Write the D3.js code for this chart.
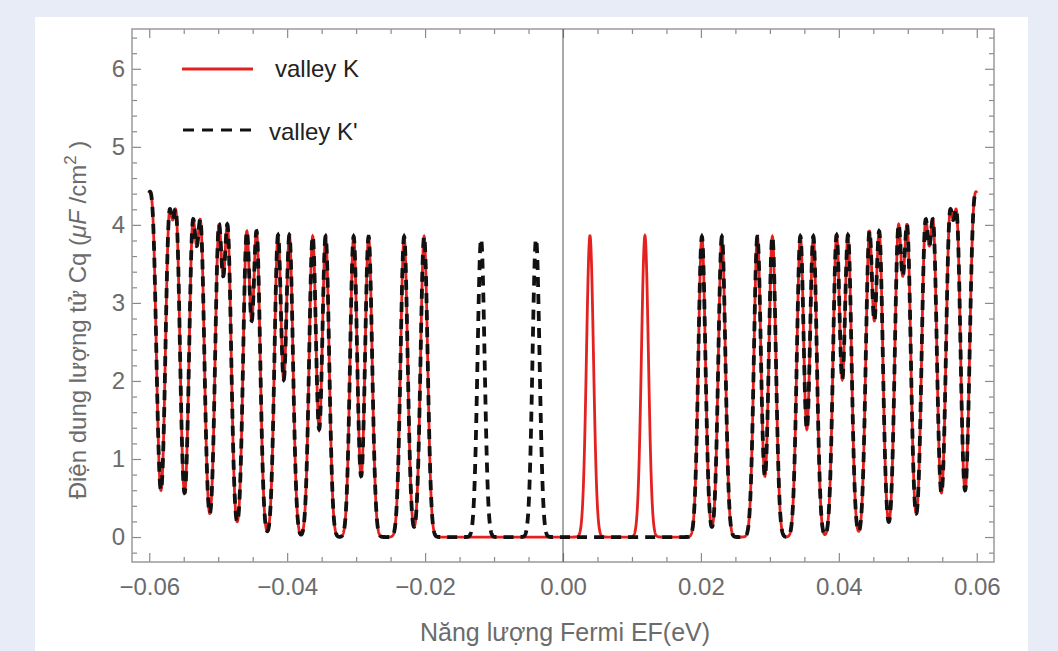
<!doctype html>
<html lang="vi">
<head>
  <meta charset="utf-8">
  <title>Cq valley K / K'</title>
  <script type="text/javascript" src="https://cdnjs.cloudflare.com/ajax/libs/d3/7.8.5/d3.min.js"></script>
  <style>
    body { margin: 0; background: #e8ecf6; }
    svg { display: block; }
  </style>
</head>
<body>
  <svg width="1058" height="651" id="svg"></svg>
</body>

<script type="text/javascript">

	// peaks shared by both valleys (magnitude of energy, eV) - they appear at +E and -E
	var commonPeakEnergy = [0.06036, 0.05942, 0.05716, 0.05603, 0.05372, 0.05251,
							0.04993, 0.04862, 0.04587, 0.04442, 0.04133, 0.03967,
							0.03630, 0.03442, 0.03036, 0.02819, 0.02304, 0.02014];
	var commonPeakHeight = [3.4, 3.4, 3.78, 3.78, 3.8, 3.8,
							3.85, 3.85, 3.85, 3.85, 3.85, 3.85,
							3.85, 3.85, 3.85, 3.85, 3.85, 3.85];

	// peaks that only one valley has
	var valleyKPeakEnergy = [0.00391, 0.01188];
	var valleyKPeakHeight = [3.86, 3.86];
	var valleyK2PeakEnergy = [-0.00391, -0.01188];
	var valleyK2PeakHeight = [3.82, 3.82];

	var peakWidth = 0.000507;   // gaussian broadening (eV)
	var energyRange = [-0.06, 0.06];

	var xTicks = [-0.06, -0.04, -0.02, 0, 0.02, 0.04, 0.06];
	var yTicks = [0, 1, 2, 3, 4, 5, 6];

	var legendLabels = ['valley K', "valley K'"];

	var svg = d3.select('#svg');

	// white panel
	svg.append('rect')
		.attr('x', 35)
		.attr('y', 17)
		.attr('width', 993)
		.attr('height', 640)
		.attr('fill', 'white');

	var x = d3.scaleLinear()
				.domain([-0.0625, 0.0625])
				.range([132, 994]);

	var y = d3.scaleLinear()
				.domain([-0.32, 6.51])
				.range([562, 29]);

	var fontFamily = '"Liberation Sans", Arial, sans-serif';

	// build the peak lists for each valley
	function peaksFor(extraE, extraH) {
		var list = [];
		commonPeakEnergy.forEach(function(e, i) {
			list.push({e: -e, h: commonPeakHeight[i]});
			list.push({e: e, h: commonPeakHeight[i]});
		});
		extraE.forEach(function(e, i) {
			list.push({e: e, h: extraH[i]});
		});
		return list;
	}

	function curve(peaks) {
		var pts = [];
		var n = 6000;
		for (var i = 0; i <= n; i++) {
			var E = energyRange[0] + (energyRange[1] - energyRange[0]) * i / n;
			var v = 0;
			peaks.forEach(function(p) {
				var d = (E - p.e) / peakWidth;
				v += p.h * Math.exp(-0.5 * d * d);
			});
			pts.push([E, v]);
		}
		return pts;
	}

	var line = d3.line()
		.x(function(d) { return x(d[0]); })
		.y(function(d) { return y(d[1]); });

	// axes (ticks inside frame, Mathematica style)
	var xMinor = d3.range(-0.06, 0.0601, 0.005).filter(function(v) {
		return Math.abs(Math.round(v * 1000) % 20) !== 0;
	});
	var yMinor = d3.range(-0.2, 6.41, 0.2).filter(function(v) {
		return Math.abs(v - Math.round(v)) > 0.01;
	});

	var tickColor = '#8a8a8a';
	var labelColor = '#6b6b6b';

	function styleAxis(g) {
		g.select('.domain').remove();
		g.selectAll('line').attr('stroke', tickColor).attr('stroke-width', 1.2);
		g.selectAll('text')
			.attr('fill', labelColor)
			.attr('font-family', fontFamily)
			.attr('font-size', 24);
	}

	svg.append('g')
		.attr('transform', 'translate(0,562)')
		.call(d3.axisBottom(x).tickValues(xTicks).tickSize(-9).tickPadding(16).tickFormat(d3.format('.2f')))
		.call(styleAxis);
	svg.append('g')
		.attr('transform', 'translate(0,562)')
		.call(d3.axisBottom(x).tickValues(xMinor).tickSize(-5).tickFormat(''))
		.call(styleAxis);
	svg.append('g')
		.attr('transform', 'translate(0,29)')
		.call(d3.axisTop(x).tickValues(xTicks).tickSize(-9).tickFormat(''))
		.call(styleAxis);
	svg.append('g')
		.attr('transform', 'translate(0,29)')
		.call(d3.axisTop(x).tickValues(xMinor).tickSize(-5).tickFormat(''))
		.call(styleAxis);

	svg.append('g')
		.attr('transform', 'translate(132,0)')
		.call(d3.axisLeft(y).tickValues(yTicks).tickSize(-9).tickPadding(7).tickFormat(d3.format('d')))
		.call(styleAxis);
	svg.append('g')
		.attr('transform', 'translate(132,0)')
		.call(d3.axisLeft(y).tickValues(yMinor).tickSize(-5).tickFormat(''))
		.call(styleAxis);
	svg.append('g')
		.attr('transform', 'translate(994,0)')
		.call(d3.axisRight(y).tickValues(yTicks).tickSize(-9).tickFormat(''))
		.call(styleAxis);
	svg.append('g')
		.attr('transform', 'translate(994,0)')
		.call(d3.axisRight(y).tickValues(yMinor).tickSize(-5).tickFormat(''))
		.call(styleAxis);

	// frame
	svg.append('rect')
		.attr('x', x.range()[0])
		.attr('y', y.range()[1])
		.attr('width', x.range()[1] - x.range()[0])
		.attr('height', y.range()[0] - y.range()[1])
		.attr('fill', 'none')
		.attr('stroke', '#9a9a9a')
		.attr('stroke-width', 1.5);

	// E = 0 line
	svg.append('line')
		.attr('x1', x(0)).attr('x2', x(0))
		.attr('y1', y.range()[1]).attr('y2', y.range()[0])
		.attr('stroke', '#555')
		.attr('stroke-width', 1);

	// curves
	svg.append('path')
		.datum(curve(peaksFor(valleyKPeakEnergy, valleyKPeakHeight)))
		.attr('d', line)
		.attr('fill', 'none')
		.attr('stroke', '#e3211f')
		.attr('stroke-width', 2.8);

	svg.append('path')
		.datum(curve(peaksFor(valleyK2PeakEnergy, valleyK2PeakHeight)))
		.attr('d', line)
		.attr('fill', 'none')
		.attr('stroke', '#111')
		.attr('stroke-width', 3.8)
		.attr('stroke-dasharray', '10,7');

	// legend
	svg.append('line')
		.attr('x1', 182).attr('x2', 253)
		.attr('y1', 69).attr('y2', 69)
		.attr('stroke', '#e3211f')
		.attr('stroke-width', 2.8);
	svg.append('line')
		.attr('x1', 183).attr('x2', 252)
		.attr('y1', 130).attr('y2', 130)
		.attr('stroke', '#111')
		.attr('stroke-width', 3)
		.attr('stroke-dasharray', '11,8');

	svg.selectAll('.legendText')
		.data(legendLabels)
		.enter()
		.append('text')
		.attr('class', 'legendText')
		.attr('x', function(d, i) { return i === 0 ? 275 : 269; })
		.attr('y', function(d, i) { return i === 0 ? 77 : 140; })
		.attr('font-family', fontFamily)
		.attr('font-size', 24)
		.attr('fill', '#222')
		.text(function(d) { return d; });

	// axis titles
	svg.append('text')
		.attr('x', 565)
		.attr('y', 641)
		.attr('text-anchor', 'middle')
		.attr('font-family', fontFamily)
		.attr('font-size', 25)
		.attr('fill', labelColor)
		.text('Năng lượng Fermi EF(eV)');

	var yTitle = svg.append('text')
		.attr('transform', 'translate(86,320) rotate(-90)')
		.attr('text-anchor', 'middle')
		.attr('font-family', fontFamily)
		.attr('font-size', 24)
		.attr('fill', labelColor);
	yTitle.append('tspan').text('Điện dung lượng tử Cq (');
	yTitle.append('tspan').attr('font-style', 'italic').text('μF');
	yTitle.append('tspan').text(' /cm');
	yTitle.append('tspan').attr('dy', -10).attr('font-size', 17).text('2');
	yTitle.append('tspan').attr('dy', 10).text(' )');

</script>
</html>
